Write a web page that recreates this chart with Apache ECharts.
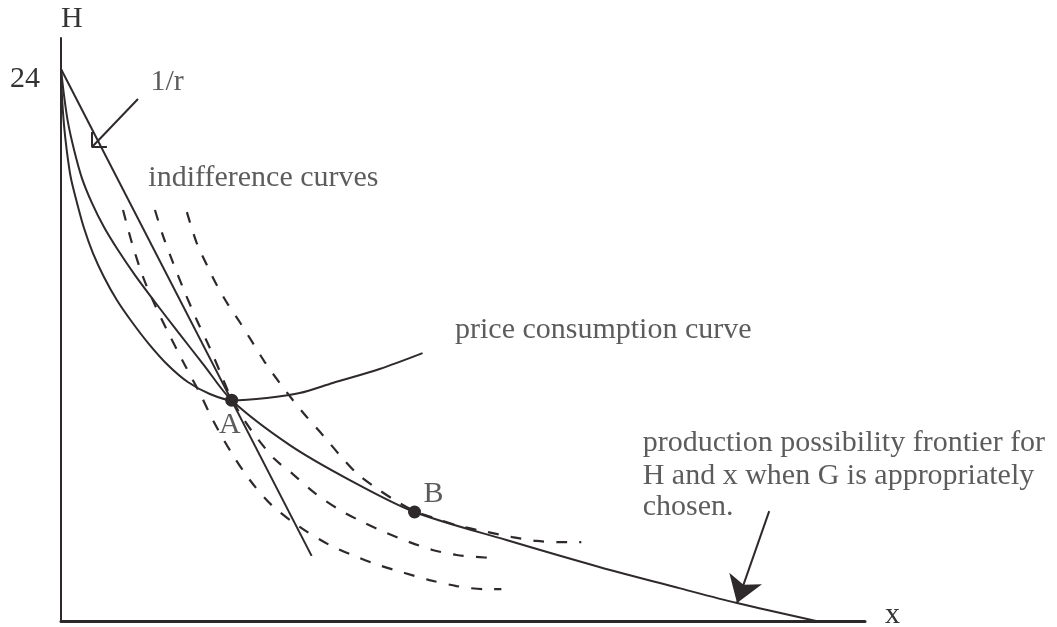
<!DOCTYPE html>
<html><head><meta charset="utf-8">
<script src="https://cdn.jsdelivr.net/npm/echarts@6/dist/echarts.min.js"></script>
<style>html,body{margin:0;padding:0;background:#fff}#c{width:1057px;height:627px}</style>
</head><body><div id="c"></div>
<script>
// ---- data (x units, hours H) ----
const budgetLine = [[0, 24], [10.91, 2.83]];
const frontier = [[0,24],[0.13,22.87],[0.30,21.70],[0.57,20.48],[0.91,19.26],[1.35,18.17],[1.87,17.13],[2.48,16.13],[3.22,15.04],[4.09,13.87],[5.09,12.57],[6.22,11.13],[7.43,9.6],[9.96,7.65],[12.57,6.13],[15.39,4.74],[19.39,3.52],[23.43,2.35],[26.91,1.43],[29.43,0.78],[32.87,0]];
const priceConsumption = [[0,24],[0.04,22.87],[0.13,21.57],[0.26,20.39],[0.43,19.26],[0.70,18.17],[1.0,17.09],[1.39,16.0],[1.87,14.96],[2.43,13.96],[3.09,13.0],[3.83,12.04],[4.65,11.13],[5.52,10.39],[6.48,9.87],[7.43,9.6],[8.96,9.70],[10.39,9.91],[11.83,10.35],[13.87,10.96],[15.74,11.65]];
const indiff1 = [[2.70,17.87],[3.09,16.43],[3.57,14.96],[4.09,13.74],[4.61,12.65],[5.39,11.13],[6.04,9.91],[6.61,8.74],[7.35,7.43],[8.22,6.13],[9.17,5.04],[10.39,4.09],[11.70,3.30],[13.0,2.74],[13.96,2.39],[14.96,2.09],[16.04,1.78],[17.22,1.52],[18.35,1.39],[19.17,1.39]];
const indiff2 = [[4.09,17.87],[4.43,16.78],[4.83,15.70],[5.35,14.39],[5.91,13.09],[6.48,11.87],[7.0,10.65],[7.43,9.65],[8.0,8.70],[8.57,7.91],[9.30,7.04],[10.09,6.39],[11.04,5.57],[12.13,4.83],[13.22,4.26],[14.17,3.83],[15.17,3.43],[16.17,3.09],[17.22,2.87],[18.22,2.78],[18.74,2.74]];
const indiff3 = [[5.48,17.78],[5.91,16.43],[6.35,15.48],[6.78,14.61],[7.26,13.78],[7.78,13.0],[8.35,12.09],[8.87,11.26],[9.52,10.35],[10.09,9.61],[10.70,8.87],[11.39,8.09],[12.13,7.22],[12.87,6.43],[13.65,5.83],[14.52,5.26],[15.39,4.78],[16.39,4.43],[17.35,4.13],[18.57,3.87],[19.65,3.65],[20.70,3.48],[21.70,3.43],[22.65,3.43]];
const pointNames = ['A', 'B'];
const pointValues = [[7.43, 9.6], [15.39, 4.74]];
const slopeArrowShaft = [[3.35, 22.70], [1.35, 20.61]];
const slopeArrowHead = [[1.35, 21.26], [1.35, 20.61], [2.0, 20.61]];
const frontierArrow = [[30.83, 4.78], [29.43, 0.78]];
const noteTexts = ['1/r', 'indifference curves', 'price consumption curve',
  'production possibility frontier for', 'H and x when G is appropriately', 'chosen.', 'A', 'B'];
const notePositions = [[3.87,23.43],[3.78,19.26],[17.13,12.65],[25.30,7.74],[25.30,6.30],[25.30,4.96],[7.35,8.52],[16.22,5.52]];
const yTickLabel = 24;
const axisNames = { x: 'x', y: 'H' };

// ---- styles ----
const INK = '#2e2a2b';
const TXT = '#333333';
const FONT = 'Liberation Serif';
const centeredNotes = { 'A': true, 'B': true };

const chart = echarts.init(document.getElementById('c'), null, { renderer: 'canvas' });
const solid = (name, data) => ({
  name, type: 'line', data, showSymbol: false, smooth: 0.3,
  lineStyle: { color: INK, width: 2 }, silent: true, z: 3
});
const dashed = (name, data) => ({
  name, type: 'line', data, showSymbol: false, smooth: 0.3,
  lineStyle: { color: INK, width: 2.2, type: [11, 12] }, silent: true, z: 2
});

chart.setOption({
  animation: false,
  backgroundColor: '#fff',
  grid: { left: 61, right: 192, top: 38, bottom: 6, containLabel: false, outerBoundsMode: 'none' },
  xAxis: {
    type: 'value', min: 0, max: 35,
    name: axisNames.x, nameLocation: 'end', nameGap: 20,
    nameTextStyle: { fontFamily: FONT, fontSize: 30, color: TXT, verticalAlign: 'bottom', lineHeight: 11 },
    axisLine: { show: true, onZero: false, lineStyle: { color: INK, width: 3 } },
    axisTick: { show: false }, axisLabel: { show: false }, splitLine: { show: false }
  },
  yAxis: {
    type: 'value', min: 0, max: 25.35, interval: 24,
    name: axisNames.y, nameLocation: 'end', nameGap: 4,
    nameTextStyle: { fontFamily: FONT, fontSize: 30, color: TXT, align: 'left' },
    axisLine: { show: true, onZero: false, lineStyle: { color: INK, width: 2 } },
    axisTick: { show: false }, splitLine: { show: false },
    axisLabel: {
      show: true, margin: 21, fontFamily: FONT, fontSize: 30, color: TXT,
      verticalAlign: 'top', lineHeight: 20,
      formatter: v => (v === yTickLabel ? String(yTickLabel) : '')
    }
  },
  series: [
    solid('budget', budgetLine),
    solid('frontier', frontier),
    solid('pcc', priceConsumption),
    dashed('ic1', indiff1),
    dashed('ic2', indiff2),
    dashed('ic3', indiff3),
    { name: 'shaft', type: 'line', data: slopeArrowShaft, showSymbol: false,
      lineStyle: { color: INK, width: 2 }, silent: true, z: 3 },
    { name: 'head', type: 'line', data: slopeArrowHead, showSymbol: false,
      lineStyle: { color: INK, width: 2 }, silent: true, z: 3 },
    { name: 'frontierArrow', type: 'lines', coordinateSystem: 'cartesian2d',
      data: [{ coords: frontierArrow }], symbol: ['none', 'arrow'], symbolSize: [18, 26],
      lineStyle: { color: INK, width: 2, opacity: 1 }, silent: true, z: 4 },
    { name: 'points', type: 'scatter', symbol: 'circle', symbolSize: 13,
      itemStyle: { color: INK, opacity: 1 },
      data: pointNames.map((n, i) => ({ name: n, value: pointValues[i] })), z: 5, silent: true },
    { name: 'notes', type: 'scatter', symbol: 'circle', symbolSize: 1,
      itemStyle: { color: 'rgba(0,0,0,0)' }, silent: true, z: 6,
      data: noteTexts.map((t, i) => ({
        name: t, value: notePositions[i],
        label: {
          show: true, formatter: '{b}', fontFamily: FONT, fontSize: 30, color: TXT,
          position: centeredNotes[t] ? 'inside' : 'right', distance: 0,
          align: centeredNotes[t] ? 'center' : 'left', verticalAlign: 'middle'
        }
      }))
    }
  ]
});
</script>
</body></html>
